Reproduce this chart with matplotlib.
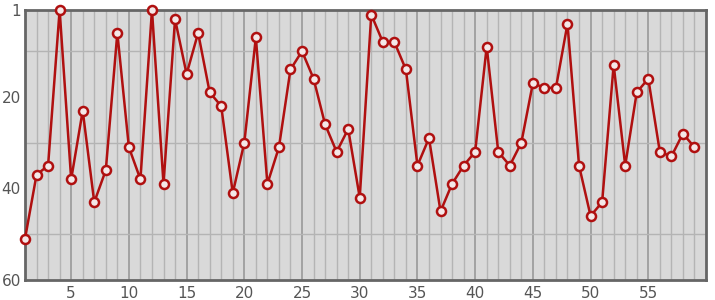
import matplotlib
matplotlib.use('Agg')
import matplotlib.pyplot as plt
from matplotlib.ticker import MultipleLocator, FixedLocator

x = list(range(1, 60))
y = [51, 37, 35, 1, 38, 23, 43, 36, 6, 31,
     38, 1, 39, 3, 15, 6, 19, 22, 41, 30,
     7, 39, 31, 14, 10, 16, 26, 32, 27, 42,
     2, 8, 8, 14, 35, 29, 45, 39, 35, 32,
     9, 32, 35, 30, 17, 18, 18, 4, 35, 46,
     43, 13, 35, 19, 16, 32, 33, 28, 31]
xticks = [5, 10, 15, 20, 25, 30, 35, 40, 45, 50, 55]
yticks = [1, 20, 40, 60]

fig = plt.figure(figsize=(7.15, 3.0), dpi=100)
ax = fig.add_axes([25/715, 20/300, 681/715, 270/300])
ax.set_facecolor('#d9d9d9')

ax.plot(x, y, color='#b01010', lw=1.8, marker='o', ms=6.5,
        mfc='#f4e8e8', mec='#b01010', mew=1.8, zorder=3, clip_on=False)

ax.set_xlim(1, 60)
ax.set_ylim(60, 1)

# grid: every integer on x, every 10 on y
ax.xaxis.set_major_locator(FixedLocator(xticks))
ax.xaxis.set_minor_locator(MultipleLocator(1))
ax.yaxis.set_major_locator(FixedLocator(yticks))
ax.yaxis.set_minor_locator(FixedLocator([10, 20, 30, 40, 50]))
ax.grid(True, which='minor', color='#b4b4b4', lw=1)
ax.grid(True, which='major', axis='x', color='#999999', lw=1.2)
ax.set_axisbelow(True)

ax.tick_params(which='both', length=0, labelsize=11, colors='#555555', pad=4)
ax.tick_params(axis='y', pad=3)

for s in ax.spines.values():
    s.set_color('#666666')
    s.set_linewidth(2)

fig.savefig('out.png', dpi=100)
